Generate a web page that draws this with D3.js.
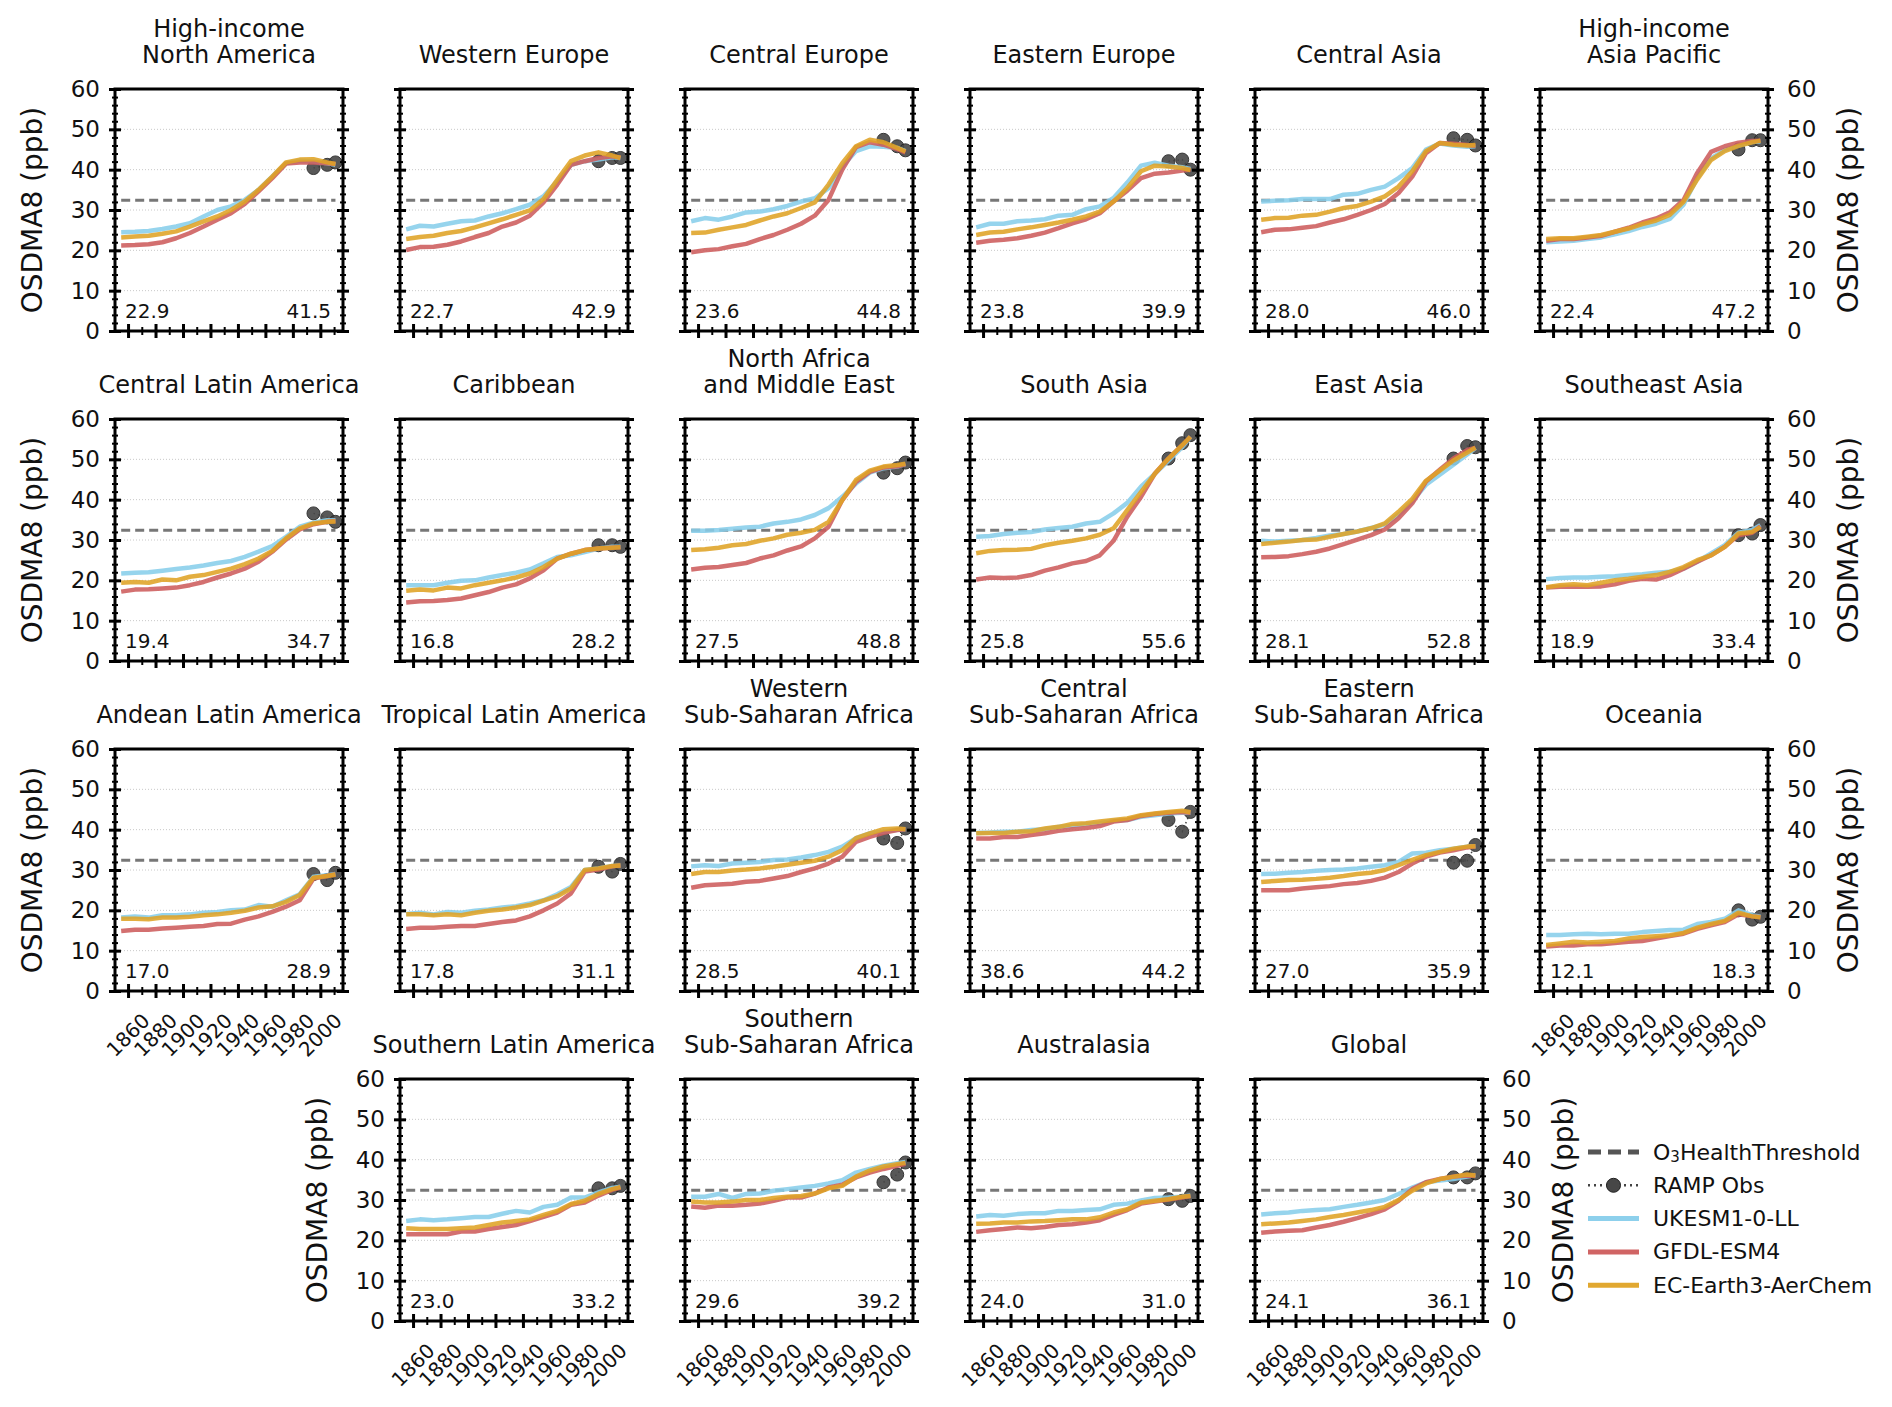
<!DOCTYPE html>
<html>
<head>
<meta charset="utf-8">
<script src="https://cdn.jsdelivr.net/npm/d3@7"></script>
<style>
  body { margin: 0; background: #fff; }
  svg { font-family: "DejaVu Sans", sans-serif; }
</style>
</head>
<body>
<div id="chart"></div>
<script>
// Data
// ==============================
var years = [1855, 1865, 1875, 1885, 1895, 1905, 1915, 1925, 1935, 1945, 1955, 1965, 1975, 1985, 1995, 2005, 2011];
var obsYears = [1995, 2005, 2011];

var regions = [
  "High-income\nNorth America", "Western Europe", "Central Europe", "Eastern Europe", "Central Asia", "High-income\nAsia Pacific",
  "Central Latin America", "Caribbean", "North Africa\nand Middle East", "South Asia", "East Asia", "Southeast Asia",
  "Andean Latin America", "Tropical Latin America", "Western\nSub-Saharan Africa", "Central\nSub-Saharan Africa", "Eastern\nSub-Saharan Africa", "Oceania",
  "Southern Latin America", "Southern\nSub-Saharan Africa", "Australasia", "Global"
];

var ukesm = [
  [24.5,24.6,24.8,25.3,25.9,26.7,28.4,30.0,30.9,32.5,35.0,38.3,41.6,42.2,42.0,41.6,41.2],
  [25.2,26.1,25.9,26.6,27.2,27.4,28.4,29.2,30.2,31.3,33.4,37.1,41.2,42.1,42.5,43.1,42.9],
  [27.2,28.0,27.6,28.4,29.4,29.6,30.2,31.0,32.1,32.9,35.4,40.8,44.6,45.8,45.7,45.4,44.6],
  [25.7,26.6,26.6,27.2,27.4,27.7,28.6,28.8,30.2,30.9,33.0,36.8,41.0,41.7,41.0,40.6,40.2],
  [32.1,32.3,32.4,32.7,32.7,32.7,33.8,34.0,35.0,35.8,37.9,40.4,45.0,46.5,46.0,45.7,45.8],
  [22.0,22.2,22.4,22.8,23.2,24.0,24.8,25.8,26.6,27.8,31.3,38.0,42.8,44.9,46.0,46.9,47.0],
  [21.7,21.9,22.0,22.4,22.8,23.2,23.7,24.3,24.8,25.8,27.1,28.5,30.8,33.3,34.3,34.9,34.9],
  [18.8,18.8,18.8,19.4,19.9,20.0,20.7,21.3,21.9,22.7,24.2,25.8,26.2,27.0,27.9,28.3,28.3],
  [32.3,32.3,32.5,32.8,33.1,33.3,34.1,34.5,35.1,36.2,37.9,40.7,44.0,46.7,47.8,48.2,48.8],
  [30.8,31.0,31.5,31.8,32.0,32.6,33.0,33.3,34.1,34.5,36.6,39.2,43.2,46.4,49.7,53.0,55.6],
  [29.8,29.6,29.8,30.0,30.5,31.1,31.5,32.1,33.0,33.8,36.3,39.6,43.7,46.2,48.7,51.2,52.8],
  [20.3,20.6,20.7,20.7,20.9,21.0,21.3,21.5,21.9,22.1,22.9,24.6,26.7,28.7,31.8,32.5,33.7],
  [18.2,18.5,18.2,18.8,18.8,19.0,19.4,19.6,20.0,20.2,21.3,20.9,22.5,24.0,28.3,28.7,29.0],
  [19.1,19.4,19.0,19.6,19.4,19.9,20.2,20.7,21.0,21.7,22.5,24.0,25.8,30.0,30.4,31.0,31.1],
  [30.9,31.2,31.0,31.6,31.8,32.0,32.5,32.6,33.1,33.7,34.5,35.8,37.9,39.1,39.5,40.0,40.1],
  [39.2,39.3,39.5,39.5,39.9,40.1,40.7,40.9,41.4,41.6,42.2,42.4,43.2,43.6,44.0,44.2,44.2],
  [29.0,29.1,29.3,29.5,29.8,30.0,30.1,30.4,30.8,31.2,32.0,34.1,34.3,34.9,35.3,35.8,35.9],
  [13.9,13.9,14.1,14.2,14.1,14.2,14.2,14.6,14.9,15.1,15.2,16.6,17.1,17.9,20.0,18.8,18.4],
  [24.8,25.2,25.0,25.2,25.5,25.8,25.8,26.6,27.3,26.9,28.3,28.8,30.6,30.6,31.9,33.0,33.3],
  [30.8,30.8,31.5,30.5,31.5,31.6,32.3,32.7,33.1,33.5,34.1,34.9,36.8,37.7,38.5,39.1,39.4],
  [25.9,26.3,26.1,26.5,26.7,26.7,27.3,27.3,27.5,27.7,28.8,29.1,29.9,30.5,30.6,30.8,31.1],
  [26.4,26.7,26.9,27.3,27.5,27.7,28.3,28.8,29.4,30.0,31.5,33.1,34.4,34.8,35.2,35.8,36.2]
];

var gfdl = [
  [21.2,21.3,21.5,22.0,23.0,24.3,25.9,27.6,29.2,31.5,34.6,37.9,41.5,41.8,41.8,41.6,41.4],
  [20.1,20.8,20.9,21.4,22.2,23.3,24.3,25.9,26.9,28.6,31.9,36.3,41.2,42.1,42.9,43.3,43.0],
  [19.5,20.0,20.3,21.0,21.6,22.8,23.8,25.1,26.6,28.6,32.5,40.0,45.6,46.8,46.2,45.1,44.3],
  [21.9,22.4,22.6,23.0,23.6,24.4,25.5,26.7,27.7,29.2,32.1,34.8,37.9,39.0,39.3,39.8,40.0],
  [24.5,25.1,25.2,25.6,26.0,26.9,27.7,28.8,30.0,31.5,34.2,38.3,44.1,46.6,46.4,46.1,45.9],
  [22.4,22.8,22.8,23.2,23.6,24.6,25.6,26.9,27.9,29.4,32.5,39.2,44.4,45.8,46.7,47.1,47.2],
  [17.2,17.7,17.8,18.0,18.2,18.8,19.6,20.7,21.7,22.9,24.6,27.1,30.1,32.6,33.9,34.5,34.7],
  [14.5,14.8,14.9,15.1,15.5,16.3,17.1,18.2,19.0,20.5,22.5,25.4,26.6,27.5,27.9,28.1,28.2],
  [22.7,23.1,23.3,23.8,24.3,25.4,26.2,27.4,28.4,30.4,33.3,39.9,44.4,46.9,48.0,48.3,48.8],
  [20.2,20.7,20.6,20.7,21.3,22.4,23.2,24.2,24.8,26.2,29.8,35.8,40.7,46.4,50.2,53.5,55.6],
  [25.7,25.8,26.0,26.5,27.1,27.9,29.0,30.1,31.2,32.6,35.4,39.1,44.5,47.4,50.2,52.3,52.8],
  [18.2,18.4,18.4,18.4,18.5,19.0,19.9,20.4,20.2,21.3,22.9,24.6,26.2,28.3,31.2,31.8,33.4],
  [14.9,15.2,15.2,15.5,15.7,15.9,16.1,16.6,16.7,17.7,18.5,19.6,20.9,22.5,27.9,28.5,28.9],
  [15.4,15.7,15.7,15.9,16.1,16.1,16.6,17.1,17.5,18.5,20.0,21.7,24.2,29.6,30.1,30.9,31.1],
  [25.6,26.2,26.4,26.6,27.1,27.3,27.9,28.5,29.5,30.4,31.6,33.3,37.0,38.2,39.2,39.9,40.1],
  [37.8,37.8,38.2,38.2,38.7,39.1,39.7,40.1,40.4,40.9,42.0,42.4,43.4,43.9,44.2,44.4,44.2],
  [25.0,25.0,25.0,25.4,25.7,26.0,26.5,26.8,27.3,28.1,29.5,31.6,33.3,34.3,34.9,35.6,35.9],
  [11.0,11.3,11.3,11.6,11.6,11.9,12.2,12.4,13.0,13.6,14.2,15.4,16.3,17.1,19.0,18.5,18.3],
  [21.5,21.5,21.5,21.5,22.2,22.2,22.8,23.3,23.8,24.8,25.8,26.9,28.8,29.4,31.1,32.5,33.1],
  [28.4,28.1,28.6,28.6,28.8,29.1,29.8,30.6,30.6,31.6,33.1,33.8,35.6,36.8,37.7,38.5,39.0],
  [22.1,22.5,22.8,23.2,23.0,23.3,23.8,24.0,24.4,25.0,26.3,27.5,29.1,29.6,30.1,30.6,31.0],
  [21.9,22.2,22.4,22.5,23.2,23.8,24.6,25.5,26.5,27.7,29.8,32.7,34.4,35.2,35.8,36.1,36.0]
];

var ecearth = [
  [23.2,23.4,23.6,24.1,24.7,25.9,27.2,28.4,30.0,32.1,35.0,38.3,41.8,42.5,42.6,41.8,41.4],
  [22.8,23.3,23.6,24.3,24.8,25.7,26.7,27.7,28.8,29.9,32.7,37.5,42.1,43.5,44.3,43.5,42.9],
  [24.3,24.4,25.1,25.7,26.3,27.4,28.4,29.2,30.5,31.9,36.3,41.6,45.8,47.4,46.8,45.4,44.5],
  [23.8,24.4,24.6,25.2,25.7,26.3,26.9,27.6,28.4,29.6,32.1,35.4,39.6,41.0,40.8,40.4,39.9],
  [27.6,28.0,28.1,28.6,28.8,29.6,30.5,31.0,32.1,33.4,35.8,39.6,44.6,46.6,46.2,46.0,46.1],
  [22.8,23.0,23.0,23.4,23.8,24.6,25.4,26.5,27.4,28.8,32.0,37.6,42.4,44.6,45.9,46.8,47.2],
  [19.4,19.6,19.4,20.2,20.0,20.9,21.3,22.1,22.9,24.0,25.4,27.3,30.4,32.9,34.1,34.5,34.6],
  [17.4,17.7,17.5,18.2,18.0,18.8,19.4,20.0,20.7,21.7,23.3,25.4,26.6,27.5,27.9,28.1,28.2],
  [27.5,27.7,28.1,28.7,29.0,29.8,30.4,31.3,31.8,32.5,34.5,39.9,44.9,47.2,48.2,48.6,48.9],
  [26.7,27.3,27.5,27.6,27.8,28.7,29.3,29.8,30.4,31.3,32.9,37.4,41.9,46.4,50.2,53.5,55.6],
  [29.0,29.3,29.6,30.0,30.1,30.8,31.5,32.1,32.9,34.1,37.0,40.2,44.7,47.2,49.7,51.7,52.9],
  [18.3,18.8,19.0,18.8,19.4,20.0,20.4,20.9,21.3,22.1,23.3,25.0,26.2,28.3,31.6,32.0,33.2],
  [17.9,17.9,17.8,18.2,18.2,18.4,18.8,19.0,19.4,19.9,20.7,21.0,22.1,23.8,28.1,28.5,28.9],
  [19.0,19.0,18.8,19.0,18.8,19.4,19.9,20.2,20.7,21.3,22.4,23.5,25.4,30.0,30.4,31.0,31.1],
  [29.0,29.5,29.5,29.9,30.1,30.4,30.8,31.3,31.8,32.3,33.3,34.9,37.9,39.1,40.1,40.3,40.1],
  [39.1,39.2,39.2,39.5,39.6,40.3,40.7,41.4,41.6,42.0,42.4,42.8,43.6,44.0,44.4,44.7,44.3],
  [27.0,27.3,27.5,27.6,27.8,28.1,28.5,29.0,29.3,30.0,31.2,32.5,33.7,34.5,35.3,35.8,35.9],
  [11.4,11.8,12.2,12.0,12.2,12.4,13.0,13.4,13.6,13.8,14.4,15.7,16.6,17.4,19.4,18.5,18.3],
  [23.0,22.8,22.8,22.8,23.0,23.2,23.8,24.4,24.8,25.2,26.3,27.3,29.0,29.8,31.5,32.7,33.2],
  [29.6,29.4,29.4,29.6,30.0,30.0,30.5,30.8,31.0,31.6,32.9,33.5,35.8,37.3,38.3,38.9,39.2],
  [24.1,24.2,24.4,24.4,24.7,24.8,25.0,25.2,25.2,25.7,26.9,27.7,29.4,29.8,30.2,30.8,31.0],
  [24.0,24.2,24.4,24.8,25.2,25.8,26.3,26.9,27.5,28.3,30.0,32.3,34.1,35.2,35.8,36.3,36.1]
];

var rampObs = [
  [40.4,41.2,41.8], [42.1,42.9,42.9], [47.4,45.8,44.8], [42.1,42.5,40.0], [47.8,47.4,46.0], [45.0,47.3,47.3],
  [36.6,35.6,34.5], [28.7,28.7,28.3], [46.7,47.8,49.2], [50.2,54.0,56.0], [50.2,53.3,53.0], [31.2,31.6,33.7],
  [29.0,27.5,29.3], [30.8,29.6,31.5], [37.8,36.7,40.3], [42.4,39.5,44.4], [31.8,32.3,36.2], [20.0,17.7,18.4],
  [32.9,32.9,33.5], [34.4,36.3,39.3], [30.2,29.8,31.0], [35.6,35.6,36.6]
];

var startLabels = ["22.9","22.7","23.6","23.8","28.0","22.4","19.4","16.8","27.5","25.8","28.1","18.9",
                   "17.0","17.8","28.5","38.6","27.0","12.1","23.0","29.6","24.0","24.1"];
var endLabels = ["41.5","42.9","44.8","39.9","46.0","47.2","34.7","28.2","48.8","55.6","52.8","33.4",
                 "28.9","31.1","40.1","44.2","35.9","18.3","33.2","39.2","31.0","36.1"];

var threshold = 32.4;
var yMajor = [0, 10, 20, 30, 40, 50, 60];
var yMinor = [2,4,6,8,12,14,16,18,22,24,26,28,32,34,36,38,42,44,46,48,52,54,56,58];
var xMajor = [1860, 1880, 1900, 1920, 1940, 1960, 1980, 2000];
var xMinor = [1870, 1890, 1910, 1930, 1950, 1970, 1990, 2010];

var models = [
  {name: "UKESM1-0-LL", values: ukesm, color: "#87CEEB"},
  {name: "GFDL-ESM4", values: gfdl, color: "#CD5C5C"},
  {name: "EC-Earth3-AerChem", values: ecearth, color: "#DFA325"}
];

// Layout
// ==============================
var svgWidth = 1892;
var svgHeight = 1407;
var panelW = 228, panelH = 242;
var colLeft = function(c) { return 115 + 285 * c; };
var rowTop = [89, 419, 749, 1079];

var svg = d3.select("#chart")
  .append("svg")
  .attr("width", svgWidth)
  .attr("height", svgHeight);

svg.append("rect").attr("width", svgWidth).attr("height", svgHeight).attr("fill", "#fff");

var x = d3.scaleLinear().domain([1850.5, 2016.5]).range([0, panelW]);
var y = d3.scaleLinear().domain([0, 60]).range([panelH, 0]);

function styleTicks(g, dir, len, width) {
  g.select(".domain").remove();
  g.selectAll(".tick line")
    .attr("stroke", "#000")
    .attr("stroke-width", width)
    .attr(dir, len);
}

regions.forEach(function(name, i) {
  var row = Math.floor(i / 6);
  var col = row < 3 ? i % 6 : (i - 18) + 1;
  var leftLabels = (col === 0) || (row === 3 && col === 1);
  var rightLabels = (col === 5) || (row === 3 && col === 4);
  var bottomLabels = row === 3 || (row === 2 && (col === 0 || col === 5));

  var g = svg.append("g")
    .attr("transform", `translate(${colLeft(col)}, ${rowTop[row]})`);

  // title
  var lines = name.split("\n");
  lines.forEach(function(t, k) {
    g.append("text")
      .attr("x", panelW / 2)
      .attr("y", -26 - 26 * (lines.length - 1 - k))
      .attr("text-anchor", "middle")
      .attr("font-size", 24)
      .attr("fill", "#111")
      .text(t);
  });

  // grid
  g.selectAll(".grid")
    .data(yMajor.slice(1, -1))
    .enter()
    .append("line")
    .attr("x1", 0).attr("x2", panelW)
    .attr("y1", d => y(d)).attr("y2", d => y(d))
    .attr("stroke", "#c8c8c8")
    .attr("stroke-width", 1)
    .attr("stroke-dasharray", "1,2");

  // health threshold
  g.append("line")
    .attr("x1", x(years[0])).attr("x2", x(years[years.length - 1]))
    .attr("y1", y(threshold)).attr("y2", y(threshold))
    .attr("stroke", "#555")
    .attr("stroke-opacity", 0.8)
    .attr("stroke-width", 3)
    .attr("stroke-dasharray", "9,5");

  // RAMP obs
  var obsPts = obsYears.map((yr, k) => [yr, rampObs[i][k]]);
  g.append("path")
    .datum(obsPts)
    .attr("d", d3.line().x(d => x(d[0])).y(d => y(d[1])))
    .attr("fill", "none")
    .attr("stroke", "#444")
    .attr("stroke-width", 1.5)
    .attr("stroke-dasharray", "1.5,3");
  g.selectAll(".obs")
    .data(obsPts)
    .enter()
    .append("circle")
    .attr("cx", d => x(d[0]))
    .attr("cy", d => y(d[1]))
    .attr("r", 6.5)
    .attr("fill", "#474747")
    .attr("stroke", "#222")
    .attr("stroke-width", 1)
    .attr("opacity", 0.9);

  // model lines
  models.forEach(function(m) {
    g.append("path")
      .datum(m.values[i])
      .attr("d", d3.line().x((d, k) => x(years[k])).y(d => y(d)))
      .attr("fill", "none")
      .attr("stroke", m.color)
      .attr("stroke-opacity", 0.88)
      .attr("stroke-width", 4.5)
      .attr("stroke-linejoin", "round");
  });

  // start / end values
  g.append("text")
    .attr("x", 10).attr("y", panelH - 13)
    .attr("font-size", 20).attr("fill", "#111")
    .text(startLabels[i]);
  g.append("text")
    .attr("x", panelW - 12).attr("y", panelH - 13)
    .attr("text-anchor", "end")
    .attr("font-size", 20).attr("fill", "#111")
    .text(endLabels[i]);

  // axes
  var leftMajor = g.append("g")
    .call(d3.axisLeft(y).tickValues(yMajor).tickSize(6).tickPadding(9)
      .tickFormat(leftLabels ? d3.format("d") : ""));
  styleTicks(leftMajor, "x1", 6, 3);
  var leftMinor = g.append("g")
    .call(d3.axisLeft(y).tickValues(yMinor).tickSize(3).tickFormat(""));
  styleTicks(leftMinor, "x1", 3, 2);

  var rightMajor = g.append("g")
    .attr("transform", `translate(${panelW}, 0)`)
    .call(d3.axisRight(y).tickValues(yMajor).tickSize(6).tickPadding(13)
      .tickFormat(rightLabels ? d3.format("d") : ""));
  styleTicks(rightMajor, "x1", -6, 3);
  var rightMinor = g.append("g")
    .attr("transform", `translate(${panelW}, 0)`)
    .call(d3.axisRight(y).tickValues(yMinor).tickSize(3).tickFormat(""));
  styleTicks(rightMinor, "x1", -3, 2);

  var bottomMajor = g.append("g")
    .attr("transform", `translate(0, ${panelH})`)
    .call(d3.axisBottom(x).tickValues(xMajor).tickSize(7).tickFormat(""));
  styleTicks(bottomMajor, "y1", -7, 3);
  var bottomMinor = g.append("g")
    .attr("transform", `translate(0, ${panelH})`)
    .call(d3.axisBottom(x).tickValues(xMinor).tickSize(4).tickFormat(""));
  styleTicks(bottomMinor, "y1", -4, 2);

  g.selectAll(".tick text")
    .attr("font-size", 23)
    .attr("font-family", "DejaVu Sans")
    .attr("fill", "#111");

  if (bottomLabels) {
    g.selectAll(".xlab")
      .data(xMajor)
      .enter()
      .append("text")
      .attr("transform", d => `translate(${x(d)}, ${panelH + 44}) rotate(-45)`)
      .attr("text-anchor", "middle")
      .attr("dominant-baseline", "central")
      .attr("font-size", 20)
      .attr("fill", "#111")
      .text(d => d);
  }

  // frame
  g.append("rect")
    .attr("width", panelW).attr("height", panelH)
    .attr("fill", "none")
    .attr("stroke", "#000")
    .attr("stroke-width", 3);

  if (leftLabels) {
    g.append("text")
      .attr("transform", `translate(-83, ${panelH / 2}) rotate(-90)`)
      .attr("text-anchor", "middle")
      .attr("dominant-baseline", "central")
      .attr("font-size", 28)
      .attr("fill", "#111")
      .text("OSDMA8 (ppb)");
  }
  if (rightLabels) {
    g.append("text")
      .attr("transform", `translate(${panelW + 80}, ${panelH / 2}) rotate(-90)`)
      .attr("text-anchor", "middle")
      .attr("dominant-baseline", "central")
      .attr("font-size", 28)
      .attr("fill", "#111")
      .text("OSDMA8 (ppb)");
  }
});

// Legend
// ==============================
var legend = svg.append("g").attr("transform", "translate(1588, 1152)");
var rowGap = 33.3;

legend.append("line")
  .attr("x1", 0).attr("x2", 51).attr("y1", 0).attr("y2", 0)
  .attr("stroke", "#555").attr("stroke-width", 5)
  .attr("stroke-dasharray", "13,7");
var thrText = legend.append("text")
  .attr("x", 65).attr("y", 0)
  .attr("dominant-baseline", "central")
  .attr("font-size", 22).attr("fill", "#111");
thrText.append("tspan").text("O");
thrText.append("tspan").attr("font-size", 15).attr("dy", 5).text("3");
thrText.append("tspan").attr("dy", -5).text("HealthThreshold");

legend.append("line")
  .attr("x1", 0).attr("x2", 51).attr("y1", rowGap).attr("y2", rowGap)
  .attr("stroke", "#444").attr("stroke-width", 2.5)
  .attr("stroke-dasharray", "2,4");
legend.append("circle")
  .attr("cx", 25.5).attr("cy", rowGap).attr("r", 7)
  .attr("fill", "#474747").attr("stroke", "#222");
legend.append("text")
  .attr("x", 65).attr("y", rowGap)
  .attr("dominant-baseline", "central")
  .attr("font-size", 22).attr("fill", "#111")
  .text("RAMP Obs");

models.forEach(function(m, k) {
  var yy = rowGap * (k + 2);
  legend.append("line")
    .attr("x1", 0).attr("x2", 51).attr("y1", yy).attr("y2", yy)
    .attr("stroke", m.color).attr("stroke-opacity", 0.95).attr("stroke-width", 5);
  legend.append("text")
    .attr("x", 65).attr("y", yy)
    .attr("dominant-baseline", "central")
    .attr("font-size", 22).attr("fill", "#111")
    .text(m.name);
});
</script>
</body>
</html>
